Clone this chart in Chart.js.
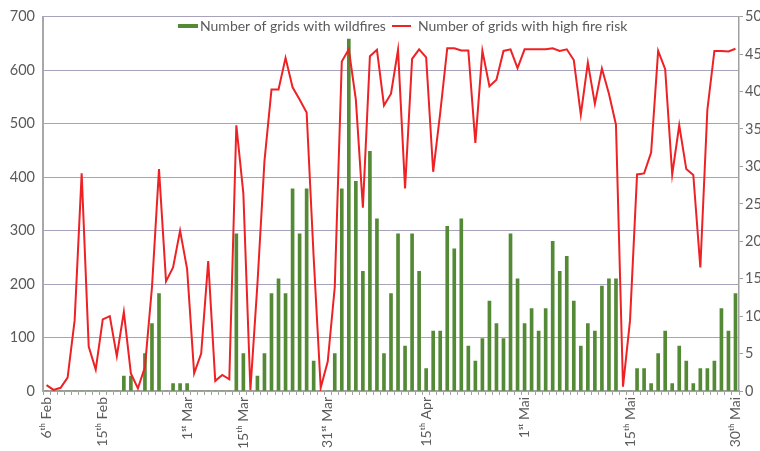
<!DOCTYPE html>
<html><head><meta charset="utf-8">
<script src="https://cdn.jsdelivr.net/npm/chart.js@4"></script>
<style>html,body{margin:0;padding:0;background:#fff}#wrap{width:760px;height:451px;position:relative}</style>
</head><body><div id="wrap"><canvas id="c" width="760" height="451"></canvas></div>
<script>
// Category axis (one entry per day shown; only some carry a label)
const categories = [
  '6ᵗʰ Feb','','','','','','','','15ᵗʰ Feb','',
  '','','','','','','','','','',
  '1ˢᵗ Mar','','','','','','','','15ᵗʰ Mar','',
  '','','','','','','','','','',
  '31ˢᵗ Mar','','','','','','','','','',
  '','','','','15ᵗʰ Apr','','','','','',
  '','','','','','','','','1ˢᵗ Mai','',
  '','','','','','','','','','',
  '','','','15ᵗʰ Mai','','','','','','',
  '','','','','','','','','30ᵗʰ Mai'
];

// Bars: number of grids with wildfires (right axis, 0-50)
const wildfireGrids = [
  0,0,0,0,0,0,0,0,0,0,
  0,2,2,0,5,9,13,0,1,1,
  1,0,0,0,0,0,0,21,5,0,
  2,5,13,15,13,27,21,27,4,0,
  0,5,27,47,28,16,32,23,5,13,
  21,6,21,16,3,8,8,22,19,23,
  6,4,7,12,9,7,21,15,9,11,
  8,11,20,16,18,12,6,9,8,14,
  15,15,0,0,3,3,1,5,8,1,
  6,4,1,3,3,4,11,8,13
];

// Line: number of grids with high fire risk (left axis, 0-700)
const highRiskGrids = [
  11,2,6,25,132,407,83,40,134,140,
  65,148,33,5,45,194,415,205,231,300,
  228,33,70,243,19,30,22,497,369,2,
  200,430,564,564,623,568,545,521,250,6,
  55,194,616,639,545,343,626,638,534,556,
  638,379,621,639,624,410,520,641,641,637,
  637,464,636,570,582,636,639,604,639,639,
  639,639,641,636,639,619,517,614,537,603,
  556,498,8,132,405,407,446,636,602,405,
  497,415,404,231,526,636,636,635,640
];

const seriesNames = ['Number of grids with wildfires', 'Number of grids with high fire risk'];
const leftAxisRange = [0, 700, 100];
const rightAxisRange = [0, 50, 5];

const GREEN = '#548a35';
const RED = '#ee2124';
const TEXT = '#5a5a5a';
const FONT = 'Lato';

const insideLegend = {
  id: 'insideLegend',
  afterDraw(chart) {
    const ctx = chart.ctx;
    ctx.save();
    ctx.font = '14px ' + FONT;
    ctx.textBaseline = 'middle';
    ctx.fillStyle = TEXT;
    const y = 26;
    let x = 178;
    ctx.fillStyle = GREEN;
    ctx.fillRect(x, y - 2, 20, 4);
    ctx.fillStyle = TEXT;
    ctx.fillText(chart.data.datasets[0].label, x + 22, y);
    x = 392;
    ctx.strokeStyle = RED;
    ctx.lineWidth = 2;
    ctx.beginPath(); ctx.moveTo(x, y); ctx.lineTo(x + 19, y); ctx.stroke();
    ctx.fillText(chart.data.datasets[1].label, x + 26, y);
    ctx.restore();
  }
};

new Chart(document.getElementById('c'), {
  type: 'bar',
  data: {
    labels: categories,
    datasets: [
      {
        type: 'bar', label: seriesNames[0], data: wildfireGrids, yAxisID: 'y1',
        backgroundColor: GREEN, barThickness: 3, order: 2
      },
      {
        type: 'line', label: seriesNames[1], data: highRiskGrids, yAxisID: 'y',
        borderColor: RED, borderWidth: 2, pointRadius: 0, tension: 0, order: 1,
        borderJoinStyle: 'miter'
      }
    ]
  },
  options: {
    responsive: false, animation: false, devicePixelRatio: 1,
    layout: { padding: { top: 15, left: 0, right: 0, bottom: 0 } },
    plugins: { legend: { display: false }, tooltip: { enabled: false } },
    scales: {
      x: {
        offset: true,
        grid: { offset: true, drawOnChartArea: false, drawTicks: true, tickLength: 4, color: '#a0a0a0' },
        border: { color: '#a0a0a0', width: 1.5 },
        ticks: { autoSkip: false, maxRotation: 90, minRotation: 90, padding: 2,
                 font: { family: FONT, size: 14 }, color: TEXT },
        afterFit: s => { s.height = 60; }
      },
      y: {
        position: 'left', min: leftAxisRange[0], max: leftAxisRange[1],
        ticks: { stepSize: leftAxisRange[2], padding: 8, font: { family: FONT, size: 14.5 }, color: TEXT },
        grid: { color: '#a8a3bd', drawTicks: false, lineWidth: 1 },
        border: { color: '#a8a8a8', width: 2 },
        afterFit: s => { s.width = 43; }
      },
      y1: {
        position: 'right', min: rightAxisRange[0], max: rightAxisRange[1],
        ticks: { stepSize: rightAxisRange[2], padding: 2, font: { family: FONT, size: 14.5 }, color: TEXT },
        grid: { drawOnChartArea: false, drawTicks: true, tickLength: 4, color: '#a0a0a0' },
        border: { color: '#a0a0a0', width: 1.5 },
        afterFit: s => { s.width = 21; }
      }
    }
  },
  plugins: [insideLegend]
});
</script>
</body></html>
